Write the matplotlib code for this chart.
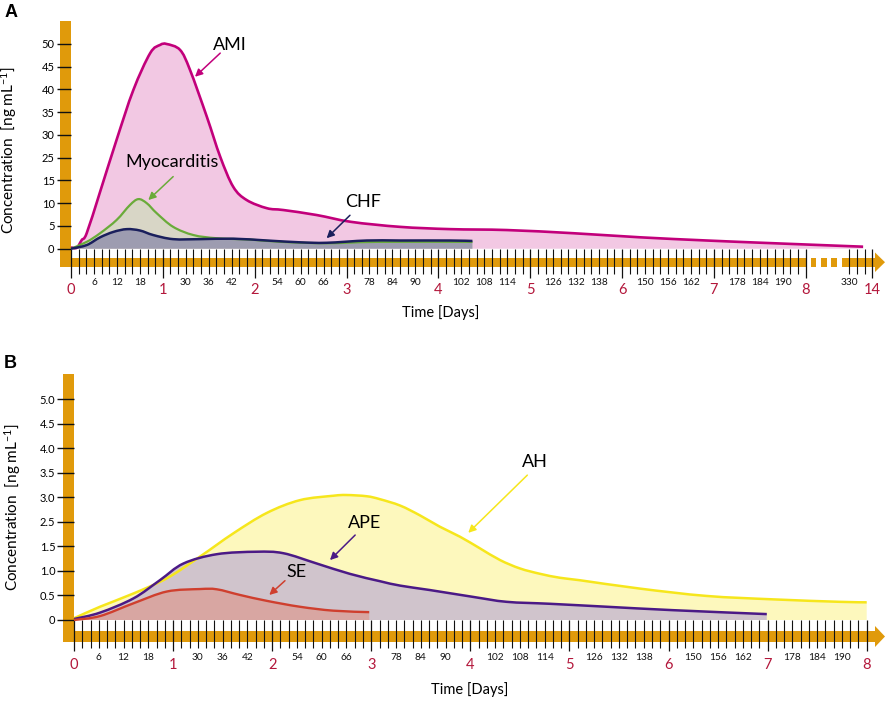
import numpy as np
import matplotlib
matplotlib.use('Agg')
import matplotlib.pyplot as plt
from matplotlib.patches import Rectangle, Polygon, PathPatch
from matplotlib.path import Path

plt.rcParams['font.family'] = ['Lato', 'DejaVu Sans']
plt.rcParams['mathtext.default'] = 'regular'

# ---------------- data (time in hours, concentration ng/mL) ----------------
ami_t = [0, 1.5, 2.8, 4.1, 7.6, 11.9, 16.3, 20.7, 23.3, 25.0, 28.5, 31.1, 35.5, 39.0,
         42.4, 45.9, 51.2, 55.5, 64.2, 73.2, 86.0, 99.1, 113.9, 131.3, 148.8, 166.2,
         183.6, 333.6]
ami_c = [0.3, 0.2, 1.9, 3.4, 12.5, 28.9, 39.9, 48.0, 49.8, 50.0, 48.7, 44.3, 34.0, 25.2,
         13.6, 10.7, 8.9, 8.5, 7.4, 5.9, 4.8, 4.3, 4.1, 3.4, 2.5, 1.8, 1.2, 0.44]

myo_t = [0, 4.1, 7.6, 11.9, 15.4, 17.6, 19.8, 22.4, 26.7, 32.0, 38.1, 46.8, 55.0, 66.8,
         80.0, 104.9]
myo_c = [0, 1.5, 3.4, 6.3, 9.6, 10.9, 10.0, 7.8, 4.8, 3.0, 2.3, 2.0, 1.5, 1.2, 1.5, 1.5]

chf_t = [0, 4.1, 7.6, 11.1, 14.6, 18.0, 21.5, 26.7, 33.7, 42.4, 51.2, 59.9, 66.8, 77.3,
         86.0, 99.1, 104.9]
chf_c = [0, 0.8, 2.5, 3.7, 4.3, 4.0, 3.0, 2.1, 2.1, 2.2, 1.8, 1.4, 1.3, 1.8, 1.8, 1.8, 1.7]

ah_t = [0, 6.3, 14.4, 22.5, 30.5, 38.6, 46.7, 54.7, 62.8, 66.0, 70.9, 74.1, 79.0, 83.8,
        88.6, 93.5, 98.3, 103.2, 108.0, 112.9, 117.7, 122.5, 137, 153.2, 169.4, 185.5, 192]
ah_c = [0.035, 0.27, 0.54, 0.85, 1.29, 2.03, 2.68, 2.94, 3.03, 3.045, 3.02, 2.96, 2.83,
        2.63, 2.30, 1.89, 1.46, 1.22, 1.05, 0.94, 0.86, 0.81, 0.64, 0.49, 0.42, 0.37, 0.36]

ape_t = [0, 6.3, 14.4, 20.8, 26.5, 34.6, 44.2, 50.7, 58.8, 66.8, 74.1, 79.0, 86.2, 96.7,
         104.8, 115.3, 129, 145.1, 167.8]
ape_c = [0.02, 0.15, 0.44, 0.81, 1.15, 1.34, 1.39, 1.36, 1.15, 0.94, 0.79, 0.70, 0.61,
         0.47, 0.37, 0.33, 0.27, 0.20, 0.12]

se_t = [0, 6.3, 14.4, 22.5, 30.5, 34.6, 40.2, 46.7, 54.7, 62.8, 71.5]
se_c = [0, 0.08, 0.34, 0.58, 0.63, 0.625, 0.51, 0.39, 0.27, 0.19, 0.16]

# ticks / labels
day_hours_A = [0, 24, 48, 72, 96, 120, 144, 168, 192, 336]
day_labels_A = ['0', '1', '2', '3', '4', '5', '6', '7', '8', '14']
day_hours_B = [0, 24, 48, 72, 96, 120, 144, 168, 192]
day_labels_B = ['0', '1', '2', '3', '4', '5', '6', '7', '8']
hour_label_pos = [6, 12, 18, 30, 36, 42, 54, 60, 66, 78, 84, 90, 102, 108, 114,
                  126, 132, 138, 150, 156, 162, 174, 180, 186]
hour_label_txt = ['6', '12', '18', '30', '36', '42', '54', '60', '66', '78', '84', '90',
                  '102', '108', '114', '126', '132', '138', '150', '156', '162',
                  '178', '184', '190']
extra_minor_A = [330, 332, 334]
extra_minor_A_txt = ['330', '', '']

yticks_A = [0, 5, 10, 15, 25, 30, 35, 40, 45, 50]
ylabels_A = ['0', '5', '10', '15', '25', '30', '35', '40', '45', '50']
yticks_B = [0, 0.5, 1.0, 1.5, 2.5, 3.0, 3.5, 4.0, 4.5, 5.0]
ylabels_B = ['0', '0.5', '1.0', '1.5', '2.5', '3.0', '3.5', '4.0', '4.5', '5.0']

# ---------------- styles ----------------
ORANGE = '#e09a0b'
RED = '#b3173b'
W, H = 886, 701

fig = plt.figure(figsize=(W / 100, H / 100), dpi=100)

# overlay for decorations in pixel coordinates
ov = fig.add_axes([0, 0, 1, 1], zorder=0)
ov.set_xlim(0, W)
ov.set_ylim(H, 0)
ov.axis('off')


def box(l, r, t, b):
    return [l / W, (H - b) / H, (r - l) / W, (b - t) / H]


# broken x scale for A
def fA(h):
    return np.interp(h, [-1000, 192, 328.2, 3000], [-1000, 192, 201.6, 201.6 + 3000 - 328.2])


def iA(p):
    return np.interp(p, [-1000, 192, 201.6, 201.6 + 3000 - 328.2], [-1000, 192, 328.2, 3000])


def fyA(v):
    return np.interp(v, [-1000, 15, 25, 1000], [-200, 3, 4, 199])


def iyA(p):
    return np.interp(p, [-200, 3, 4, 199], [-1000, 15, 25, 1000])


def fyB(v):
    return np.interp(v, [-100, 1.5, 2.5, 100], [-200, 3, 4, 199])


def iyB(p):
    return np.interp(p, [-200, 3, 4, 199], [-100, 1.5, 2.5, 100])


axA = fig.add_axes(box(71, 872.3, 44, 248.7), zorder=1)
axB = fig.add_axes(box(74, 866.7, 399, 620), zorder=1)
axA.set_xscale('function', functions=(fA, iA))
axA.set_yscale('function', functions=(fyA, iyA))
axB.set_yscale('function', functions=(fyB, iyB))
axA.set_xlim(0, 336)
axA.set_ylim(0, 50)
axB.set_xlim(0, 192)
axB.set_ylim(0, 5.0)

for ax in (axA, axB):
    ax.set_facecolor('none')
    for s in ax.spines.values():
        s.set_visible(False)


# smooth rendering of a read series: Catmull-Rom Bezier through the data points,
# positioned with the axes' own data transform
def smooth_path(ax, t, c, closed=False):
    pts = ax.transAxes.inverted().transform(
        ax.transData.transform(np.column_stack([t, c])))
    n = len(pts)
    k = 1.0 / 6.0
    verts = [pts[0]]
    codes = [Path.MOVETO]
    for i in range(n - 1):
        p0 = pts[i - 1] if i > 0 else pts[i]
        p1, p2 = pts[i], pts[i + 1]
        p3 = pts[i + 2] if i + 2 < n else pts[i + 1]
        verts += [p1 + (p2 - p0) * k, p2 - (p3 - p1) * k, p2]
        codes += [Path.CURVE4] * 3
    if closed:
        verts += [(pts[-1][0], 0.0), (pts[0][0], 0.0), pts[0]]
        codes += [Path.LINETO, Path.LINETO, Path.CLOSEPOLY]
    return Path(verts, codes)


def curve(ax, t, c, line_color, fill_color, lw, z):
    ax.add_patch(PathPatch(smooth_path(ax, t, c, closed=True), facecolor=fill_color,
                           edgecolor='none', lw=0, transform=ax.transAxes, zorder=z))
    ax.add_patch(PathPatch(smooth_path(ax, t, c), facecolor='none', edgecolor=line_color,
                           lw=lw, transform=ax.transAxes, zorder=z + 10, clip_on=False,
                           capstyle='butt', joinstyle='round'))


curve(axA, ami_t, ami_c, '#c2007b', '#f2c8e3', 1.9, 1)
curve(axA, myo_t, myo_c, '#6aab3a', '#d8d6c6', 1.6, 2)
curve(axA, chf_t, chf_c, '#1a1f5c', '#9d9cb0', 1.8, 3)

curve(axB, ah_t, ah_c, '#f6e61c', '#fdf8bd', 1.8, 1)
curve(axB, ape_t, ape_c, '#4b1a86', '#d0c4cc', 1.8, 2)
curve(axB, se_t, se_c, '#cf3f2e', '#d8a6a2', 1.7, 3)


# ---- ticks ----
def minor_setup(extra_pos, extra_txt):
    lab = dict(zip(hour_label_pos, hour_label_txt))
    pos = [h for h in range(2, 192, 2) if h % 24 != 0]
    txt = [lab.get(h, '') for h in pos]
    return pos + extra_pos, txt + extra_txt


mpA, mtA = minor_setup(extra_minor_A, extra_minor_A_txt)
mpB, mtB = minor_setup([], [])
axA.set_xticks(day_hours_A, day_labels_A)
axA.set_xticks(mpA, mtA, minor=True)
axB.set_xticks(day_hours_B, day_labels_B)
axB.set_xticks(mpB, mtB, minor=True)
axA.set_yticks(yticks_A, ylabels_A)
axB.set_yticks(yticks_B, ylabels_B)
axA.yaxis.set_minor_locator(matplotlib.ticker.NullLocator())
axB.yaxis.set_minor_locator(matplotlib.ticker.NullLocator())

axA.tick_params(axis='x', which='major', length=21, width=0.9, pad=4, labelsize=10.5,
                labelcolor=RED, color='#111111')
axA.tick_params(axis='x', which='minor', length=18, width=0.8, pad=3, labelsize=7.3,
                labelcolor='#111111', color='#111111')
axB.tick_params(axis='x', which='major', length=22.5, width=0.9, pad=5, labelsize=10.5,
                labelcolor=RED, color='#111111')
axB.tick_params(axis='x', which='minor', length=20, width=0.8, pad=4, labelsize=7.3,
                labelcolor='#111111', color='#111111')
axA.tick_params(axis='y', length=10.3, width=1.0, pad=1.5, labelsize=8, color='#111111')
axB.tick_params(axis='y', length=12, width=1.0, pad=1.5, labelsize=8, color='#111111')


# ---- annotations ----
def label(ax, txt, xy_text, tail, head, color):
    ax.text(xy_text[0], xy_text[1], txt, fontsize=13, ha='center', va='center', zorder=30)
    ax.annotate('', xy=head, xytext=tail,
                arrowprops=dict(arrowstyle='-|>', color=color, lw=1.1, mutation_scale=11,
                                shrinkA=0, shrinkB=0), zorder=30)


label(axA, 'AMI', (41.6, 49.8), (39.0, 48.0), (32.4, 42.8), '#c2007b')
label(axA, 'Myocarditis', (26.4, 23.1), (26.7, 16.7), (20.2, 10.7), '#6aab3a')
label(axA, 'CHF', (76.3, 10.3), (72.9, 7.35), (66.8, 2.3), '#1a1f5c')
label(axB, 'AH', (111.7, 3.72), (109.8, 3.45), (95.5, 2.05), '#f6e61c')
label(axB, 'APE', (70.3, 2.44), (68.1, 1.96), (62.0, 1.22), '#4b1a86')
label(axB, 'SE', (53.9, 0.97), (51.1, 0.80), (47.3, 0.51), '#cf3f2e')


# ---- orange axis bars (decorations, pixel coordinates) ----
def rect(x0, x1, y0, y1):
    ov.add_patch(Rectangle((x0, y0), x1 - x0, y1 - y0, color=ORANGE, lw=0))


# panel A
rect(60, 70.7, 20.7, 267)
rect(60, 805.7, 257.5, 267)
for d0, d1 in [(811, 816), (821, 827), (831, 837)]:
    rect(d0, d1, 257.5, 267)
rect(842.3, 875.5, 257.5, 267)
ov.add_patch(Polygon([(875, 252.5), (885, 262.2), (875, 272)], color=ORANGE, lw=0))
# panel B
rect(63.3, 74, 374, 642)
rect(63.3, 875.5, 631, 642)
ov.add_patch(Polygon([(875, 626), (885, 636.5), (875, 647)], color=ORANGE, lw=0))

# ---- texts ----
ov.text(5, 4, 'A', fontsize=13, fontweight='bold', ha='left', va='top',
        family=['Liberation Sans', 'DejaVu Sans'])
ov.text(4, 355, 'B', fontsize=13, fontweight='bold', ha='left', va='top',
        family=['Liberation Sans', 'DejaVu Sans'])
ov.text(441, 313, 'Time [Days]', fontsize=10.5, ha='center', va='center')
ov.text(470, 690, 'Time [Days]', fontsize=10.5, ha='center', va='center')
ylab = 'Concentration  [ng mL$^{-1}$]'
ov.text(9, 150, ylab, fontsize=11, rotation=90, ha='center', va='center')
ov.text(13, 507, ylab, fontsize=11, rotation=90, ha='center', va='center')

fig.savefig('out.png', dpi=100)
